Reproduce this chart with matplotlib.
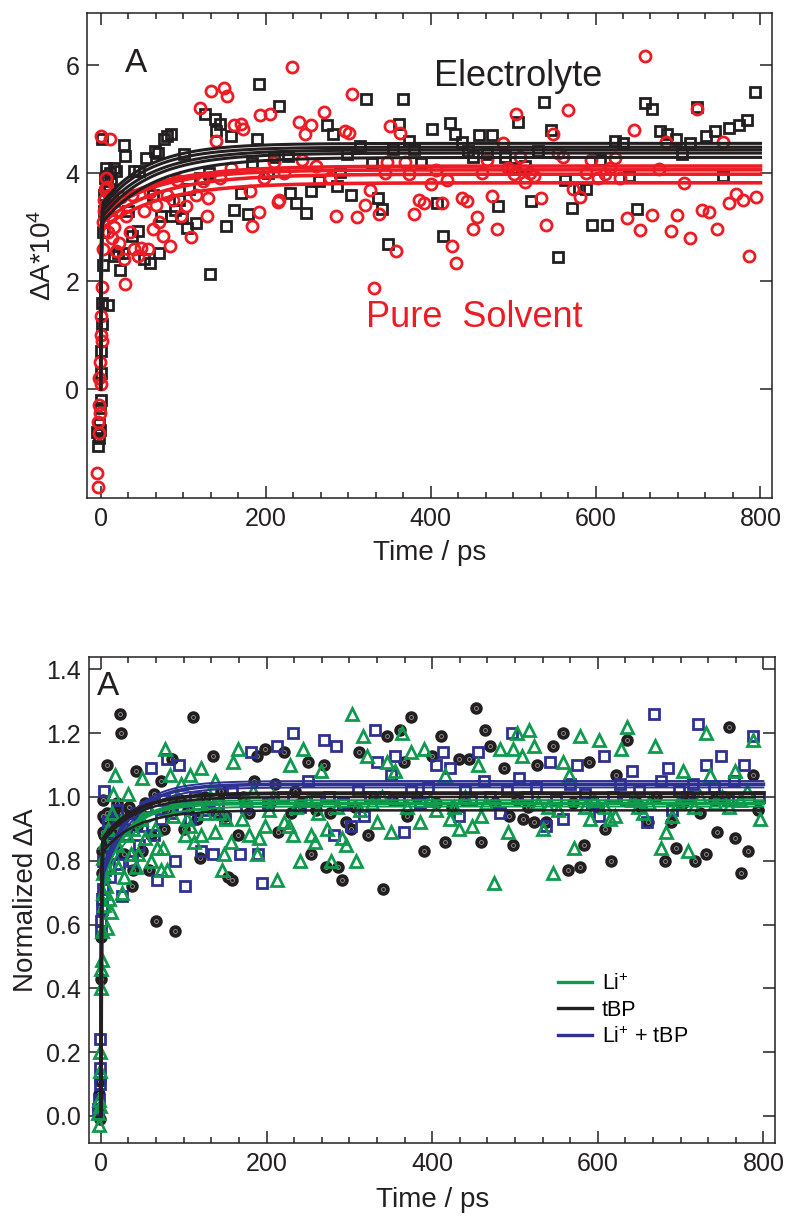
import numpy as np
import matplotlib
matplotlib.use("Agg")
import matplotlib.pyplot as plt
from matplotlib.ticker import MultipleLocator, AutoMinorLocator, FormatStrFormatter, FixedLocator

plt.rcParams['font.family'] = ['Liberation Sans', 'DejaVu Sans']
plt.rcParams['mathtext.fontset'] = 'custom'
plt.rcParams['mathtext.rm'] = 'Liberation Sans'
plt.rcParams['mathtext.it'] = 'Liberation Sans'

# ---------------- Panel 1 data: Delta A * 1e4 vs time (ps) ----------------
electrolyte_t = [-4, -3, -2, -1.5, -1, -0.5, 0, 0.5, 1, 1.5, 2, 2, 2.5, 3, 3.5, 4, 5, 6, 7, 8, 9, 10, 11, 12, 14,
                 16, 16, 19, 21, 24, 27, 28, 30, 33, 38, 41, 45, 47, 52, 55, 60, 63, 66, 70, 71, 73, 77, 81, 85, 85,
                 90, 95, 99, 101, 105, 107, 115, 120, 126, 131, 133, 139, 140, 145, 152, 158, 162, 170, 179, 184,
                 189, 192, 203, 210, 216, 227, 230, 237, 249, 255, 265, 274, 282, 286, 290, 299, 304, 315, 322, 329,
                 336, 341, 348, 355, 362, 367, 374, 380, 389, 402, 408, 415, 424, 430, 438, 445, 452, 459, 468, 475,
                 482, 490, 499, 506, 514, 522, 530, 538, 546, 555, 563, 571, 580, 589, 596, 605, 614, 624, 633, 641,
                 650, 660, 668, 678, 687, 697, 705, 715, 723, 734, 745, 755, 762, 774, 784, 793]
electrolyte_v = [-0.8, -1.05, -0.65, -0.9, -0.35, -0.75, -0.2, 0.3, 0.7, 1.2, 4.63, 1.6, 2.3, 2.9, 3.3, 3.6, 3.9, 3.75, 4.1, 3.95, 1.55, 3.7, 4.0, 3.85, 3.5,
                 2.46, 4.1, 4.04, 2.52, 2.21, 2.52, 4.52, 4.32, 3.3, 2.83, 4.04, 2.93, 4.04, 2.4, 4.27, 2.33, 3.6, 4.41, 4.37, 2.52, 3.2, 4.63, 4.69, 4.73, 3.2,
                 3.31, 3.5, 3.17, 4.36, 2.99, 3.71, 3.08, 3.9, 5.09, 4.01, 2.13, 5.01, 4.77, 4.9, 3.02, 4.69, 3.31, 3.64, 3.25, 4.19,
                 4.64, 5.65, 4.01, 4.3, 5.24, 4.32, 3.64, 3.44, 3.27, 3.67, 3.85, 4.89, 4.72, 3.76, 4.02, 4.35, 3.6, 4.5, 5.38, 4.18,
                 3.53, 3.34, 2.68, 4.45, 4.9, 5.37, 4.59, 4.45, 4.19, 4.81, 3.44, 2.83, 4.93, 4.72, 4.58, 4.4, 4.3, 4.7, 4.35, 4.7,
                 3.39, 4.3, 4.1, 4.94, 4.13, 3.48, 4.4, 5.31, 4.79, 2.44, 3.88, 3.36, 3.73, 3.7, 3.03, 4.24, 3.03, 4.59, 4.55, 3.95,
                 3.34, 5.29, 5.19, 4.78, 4.72, 4.63, 4.35, 4.55, 5.23, 4.69, 4.78, 3.95, 4.84, 4.89, 4.98, 5.5]

solvent_t = [-4, -3.5, -3, -2.5, -2, -1.5, -1, -0.5, 0, 0.5, 1, 1, 1.5, 2, 2.5, 3, 3.5, 4, 5, 6, 7, 8, 9, 10, 11, 12,
             14, 16, 18, 20, 22, 25, 28, 29, 31, 35, 38, 41, 45, 49, 53, 58, 60, 63, 67, 71, 76, 80, 84, 88, 93, 97,
             104, 110, 115, 121, 124, 129, 130, 134, 140, 145, 150, 153, 158, 162, 170, 173, 181, 184, 192, 193, 198,
             205, 210, 215, 216, 222, 232, 240, 244, 248, 255, 261, 271, 278, 285, 296, 301, 305, 311, 320, 326, 332,
             337, 345, 347, 351, 358, 363, 369, 374, 380, 386, 392, 400, 407, 414, 420, 426, 431, 438, 444, 451, 456,
             462, 468, 475, 480, 488, 494, 501, 504, 508, 515, 520, 526, 534, 540, 548, 555, 561, 567, 573, 581, 588,
             595, 603, 611, 618, 624, 630, 638, 647, 654, 660, 668, 677, 685, 691, 699, 707, 715, 723, 729, 738, 747,
             755, 762, 770, 779, 786, 795]
solvent_v = [-1.56, -1.81, -0.6, -0.3, 0.2, -0.82, 0.5, -0.45, 1.0, 0.1, 1.35, 4.69, 0.9, 1.9, 2.6, 3.1, 3.5, 3.3, 3.7, 3.9, 3.4, 3.75, 2.9, 3.6, 4.63, 3.2,
             2.8, 3.0, 2.55, 3.3, 2.7, 3.55, 2.4, 1.94, 3.2, 2.9, 3.6, 2.59, 2.47, 2.62, 3.3, 2.6, 3.65, 2.96, 3.4, 3.1, 2.83, 3.6, 2.65, 3.51, 3.88, 3.2,
             3.39, 2.82, 3.6, 5.21, 3.85, 3.2, 3.54, 5.52, 4.59, 3.9, 5.57, 5.42, 4.1, 4.89, 4.9, 4.82, 3.67, 3.02, 3.28, 5.07, 3.9,
             5.09, 4.2, 3.47, 3.51, 4.0, 5.96, 4.94, 4.25, 4.72, 4.89, 4.13, 5.13, 3.9, 3.2, 4.78, 4.75, 5.46, 3.19, 3.4, 3.69, 1.87,
             3.24, 4.0, 4.2, 4.87, 2.55, 4.75, 4.2, 3.98, 3.25, 3.51, 3.44, 3.79, 4.05, 3.44, 3.88, 2.65, 2.33, 3.53, 3.48, 2.96, 3.19,
             4.0, 4.24, 3.57, 2.97, 4.55, 4.1, 3.98, 5.09, 4.3, 3.83, 4.0, 3.95, 3.53, 3.03, 4.72, 4.37, 4.29, 5.17, 3.7, 3.56, 4.0,
             4.24, 3.9, 3.98, 4.1, 4.27, 3.9, 3.17, 4.8, 2.94, 6.17, 3.23, 4.08, 4.58, 2.93, 3.22, 3.81, 2.8, 5.18, 3.31, 3.28, 2.97,
             4.58, 3.44, 3.62, 3.51, 2.47, 3.56]

# fit curves (plateau, level after fast step, slow time constant in ps)
electrolyte_fit_plateau = [4.55, 4.48, 4.43, 4.37, 4.29]
electrolyte_fit_start = [3.40, 3.32, 3.25, 3.15, 3.05]
electrolyte_fit_tau = [55, 55, 60, 60, 65]
solvent_fit_plateau = [4.13, 4.06, 3.98, 3.82]
solvent_fit_start = [3.30, 3.20, 3.05, 2.95]
solvent_fit_tau = [70, 65, 70, 70]
panel1_yticks = [0, 2, 4, 6]

# ---------------- Panel 2 data: normalized Delta A ----------------
tbp_t = [-3, -2, -1.5, -1, 0, 0.5, 1, 1.5, 2, 2.5, 3, 4, 5, 6, 7, 8, 10, 12, 14, 16, 18, 20, 23, 24, 26, 28, 31, 34,
         37, 39, 42, 44, 47, 50, 53, 58, 61, 64, 67, 72, 76, 80, 86, 89, 95, 100, 105, 111, 116, 120, 126, 130, 135,
         140, 145, 150, 154, 158, 165, 172, 179, 185, 189, 198, 204, 210, 214, 221, 229, 235, 242, 250, 254, 260, 269,
         272, 277, 286, 291, 296, 302, 307, 312, 322, 330, 341, 345, 352, 361, 366, 370, 375, 382, 390, 400, 405, 411,
         416, 424, 432, 438, 444, 453, 459, 464, 470, 476, 487, 493, 498, 503, 510, 516, 523, 527, 537, 546, 558, 564,
         570, 578, 583, 590, 600, 609, 616, 622, 635, 645, 652, 661, 670, 681, 688, 695, 703, 711, 717, 723, 731, 740,
         744, 752, 759, 766, 773, 781, 788, 793]
tbp_v = [0.02, 0.07, -0.01, 0.11, 0.43, 0.56, 0.76, 0.83, 0.89, 0.94, 0.99, 0.88, 0.93, 0.8, 1.1, 0.95, 0.86, 0.9, 0.95, 0.85, 0.92, 0.98, 1.26, 1.2, 0.95, 0.82, 0.9, 0.97,
         0.72, 0.77, 1.08, 0.91, 0.95, 0.83, 0.98, 0.77, 0.88, 1.01, 0.61, 1.05, 0.9, 0.96, 1.12, 0.58, 0.99, 0.9, 0.96, 1.25, 0.93, 0.81, 1.0, 0.97, 1.13,
         0.95, 1.02, 0.94, 0.75, 0.74, 0.88, 1.0, 0.95, 1.05, 1.13, 1.15, 0.98, 1.04, 0.89, 1.14, 0.95, 1.02, 0.98, 1.11, 0.82, 0.96, 1.1,
         0.78, 0.95, 0.78, 0.74, 0.92, 0.9, 0.97, 1.14, 0.88, 1.0, 0.71, 1.19, 0.99, 1.21, 1.11, 0.94, 1.25, 1.0, 0.83, 1.13, 0.98, 1.19,
         0.86, 0.97, 1.12, 0.99, 1.12, 1.28, 0.86, 1.21, 1.16, 0.98, 1.09, 0.94, 0.85, 0.99, 0.93, 0.97, 0.92, 1.1, 0.92, 1.16, 1.2, 0.77,
         0.98, 0.78, 0.85, 1.11, 0.97, 0.9, 0.8, 1.07, 1.18, 0.99, 0.97, 0.92, 1.0, 0.8, 0.92, 0.84, 0.98, 1.0, 0.8, 0.95, 0.82, 0.99,
         0.89, 1.0, 1.22, 0.87, 0.76, 0.83, 1.07, 0.96]

li_t = [-3, -2.5, -2, -1.5, -1, -0.5, 0, 0.5, 1, 1.5, 2, 2.5, 3, 4, 5, 6, 7, 8, 9, 10, 12, 13, 15, 17, 19, 21, 24, 26,
        28, 31, 33, 36, 39, 42, 45, 48, 50, 53, 57, 61, 65, 68, 72, 75, 77, 80, 83, 87, 92, 97, 101, 104, 108, 108, 113,
        117, 121, 121, 126, 132, 138, 138, 143, 146, 149, 151, 157, 160, 166, 171, 175, 179, 184, 188, 191, 198, 203, 208,
        213, 221, 227, 228, 232, 236, 240, 244, 250, 254, 258, 262, 266, 273, 278, 285, 291, 296, 303, 308, 313, 317, 321,
        327, 334, 340, 345, 350, 355, 364, 370, 375, 385, 390, 398, 405, 415, 421, 427, 432, 440, 448, 455, 459, 465, 475,
        482, 492, 498, 502, 509, 517, 523, 528, 534, 540, 546, 552, 558, 565, 571, 578, 585, 591, 596, 602, 609, 615, 621,
        628, 635, 641, 648, 655, 662, 669, 676, 682, 690, 697, 703, 709, 716, 723, 731, 736, 742, 750, 758, 766, 772, 780,
        788, 796]
li_v = [0.01, -0.03, 0.05, 0.14, 0.03, 0.2, 0.4, 0.46, 0.49, 0.58, 0.7, 0.76, 0.81, 0.66, 0.86, 0.72, 0.59, 0.78, 0.9, 0.68, 0.64, 0.95, 1.01, 1.07, 0.85, 0.78, 0.92, 0.7,
        0.75, 0.88, 1.01, 0.82, 0.9, 0.78, 0.82, 0.93, 1.06, 0.87, 0.97, 0.8, 0.9, 0.84, 0.77, 0.84, 1.15, 0.77, 1.07, 0.94, 1.0, 1.04, 0.88, 0.93, 1.07, 0.91, 0.86,
        0.98, 1.09, 0.88, 0.95, 1.0, 1.05, 0.89, 0.95, 0.77, 0.82, 0.93, 0.86, 1.11, 1.15, 0.93, 0.99, 0.88, 1.02, 0.82, 0.87, 0.91, 0.96, 1.0,
        0.74, 0.92, 0.91, 1.1, 0.88, 0.97, 0.8, 1.15, 0.99, 0.88, 0.86, 0.95, 1.08, 0.9, 0.8, 0.97, 0.87, 0.85, 1.26, 0.8, 0.96, 1.19, 1.13,
        0.98, 0.92, 1.0, 1.11, 0.89, 1.08, 1.2, 0.97, 1.14, 0.92, 1.15, 0.99, 0.96, 1.07, 0.93, 0.97, 0.9, 1.0, 0.91, 1.1, 0.94, 0.98, 0.73,
        1.15, 0.89, 1.15, 1.2, 1.13, 1.21, 1.16, 0.98, 0.9, 0.97, 0.76, 0.96, 1.11, 1.07, 0.84, 1.19, 0.97, 0.93, 0.99, 1.18, 0.97, 0.93, 0.94,
        1.15, 1.22, 0.99, 0.97, 0.95, 0.98, 1.16, 0.84, 0.89, 0.94, 0.98, 1.08, 0.83, 0.97, 1.0, 1.2, 1.07, 0.98, 1.0, 0.97, 1.08, 0.99, 1.02,
        1.18, 0.93]

litbp_t = [-3, -2, -1.5, -1, -0.5, 0, 0.5, 1, 1.5, 2, 3, 4, 5, 7, 9, 11, 13, 16, 19, 22, 26, 30, 34, 38, 42, 46, 50,
           55, 60, 64, 68, 72, 76, 80, 85, 90, 94, 98, 102, 108, 114, 121, 128, 135, 142, 150, 158, 168, 175, 181, 190,
           195, 202, 213, 220, 232, 240, 250, 260, 269, 276, 281, 284, 292, 302, 310, 318, 325, 331, 334, 342, 350, 355,
           360, 366, 375, 385, 395, 405, 413, 422, 433, 440, 447, 455, 463, 470, 482, 490, 497, 505, 515, 525, 537, 542,
           550, 558, 566, 575, 585, 593, 602, 608, 618, 627, 634, 641, 650, 660, 668, 676, 685, 690, 698, 708, 715, 721,
           731, 740, 749, 757, 765, 777, 787, 795]
litbp_v = [0.02, 0.05, 0.1, 0.15, 0.24, 0.58, 0.61, 0.65, 0.68, 0.71, 0.8, 1.02, 0.77, 0.86, 0.92, 0.75, 0.82, 0.9, 0.96, 0.79, 0.69, 0.88, 0.92, 0.8, 0.95, 0.85, 0.91,
           0.97, 1.09, 0.88, 0.74, 0.93, 0.99, 1.12, 0.95, 0.8, 1.1, 0.97, 0.72, 0.93, 1.0, 0.83, 0.96, 0.82, 0.98, 0.93, 1.02, 0.82, 0.97, 1.14, 0.82,
           0.73, 0.98, 1.16, 1.0, 1.2, 0.97, 1.05, 0.99, 1.18, 1.0, 0.88, 1.16, 0.98, 0.91, 1.02, 0.94, 1.0, 1.21, 1.11, 1.0, 1.07, 1.13,
           0.99, 0.89, 1.02, 0.98, 1.03, 1.1, 1.14, 1.09, 0.94, 1.02, 0.99, 1.14, 1.05, 1.0, 0.95, 1.02, 1.2, 1.06, 1.0, 1.03, 0.91, 1.11,
           0.99, 0.93, 1.04, 1.1, 1.01, 0.98, 0.94, 1.13, 1.0, 1.04, 0.99, 1.08, 1.02, 0.92, 1.26, 1.05, 1.09, 0.96, 1.02, 1.0, 1.04, 1.23,
           1.1, 1.03, 1.13, 0.99, 1.05, 1.1, 1.19, 1.0]

li_fit_plateau = [0.99, 0.98, 0.97]
li_fit_start = [0.74, 0.72, 0.70]
li_fit_tau = [32, 30, 34]
tbp_fit_plateau = [1.012, 1.0, 0.958]
tbp_fit_start = [0.86, 0.85, 0.82]
tbp_fit_tau = [40, 40, 40]
litbp_fit_plateau = [1.05, 1.04, 1.03]
litbp_fit_start = [0.76, 0.75, 0.73]
litbp_fit_tau = [35, 35, 36]

legend_labels = [r'Li$^{+}$', 'tBP', r'Li$^{+}$ + tBP']

# ---------------- styling ----------------
BLACK = '#231f20'
RED = '#ed1c24'
GREEN = '#0f9a4e'
BLUE = '#2e3192'
FS_TICK = 18
FS_LABEL = 20

fig = plt.figure(figsize=(7.88, 12.17), dpi=100)
ax1 = fig.add_axes([0.111, 0.5906, 0.8687, 0.3990])
ax2 = fig.add_axes([0.1133, 0.0606, 0.8702, 0.3993])

t_fit = np.concatenate([[0.0], np.linspace(0.02, 10, 200), np.linspace(10.5, 800, 600)])


def fit_curve(plateau, start, tau):
    return (plateau - (plateau - start) * np.exp(-t_fit / tau)) * (1 - np.exp(-t_fit / 0.6))


# panel 1
ax1.plot(electrolyte_t, electrolyte_v, ls='none', marker='s', ms=7.5, mfc='none', mec=BLACK, mew=2.0, zorder=2)
ax1.plot(solvent_t, solvent_v, ls='none', marker='o', ms=8, mfc='none', mec=RED, mew=2.0, zorder=2.1)
for p, s, tau in zip(solvent_fit_plateau, solvent_fit_start, solvent_fit_tau):
    ax1.plot(t_fit, fit_curve(p, s, tau), color=RED, lw=2.6, zorder=3)
for p, s, tau in zip(electrolyte_fit_plateau, electrolyte_fit_start, electrolyte_fit_tau):
    ax1.plot(t_fit, fit_curve(p, s, tau), color=BLACK, lw=2.2, zorder=3.1)

ax1.set_xlim(-16, 814)
ax1.set_ylim(-2.02, 6.97)
ax1.xaxis.set_major_locator(MultipleLocator(200))
ax1.xaxis.set_minor_locator(AutoMinorLocator(6))
ax1.yaxis.set_major_locator(FixedLocator(panel1_yticks))
ax1.set_xlabel('Time / ps', fontsize=FS_LABEL, color=BLACK, labelpad=7)
ax1.set_ylabel(r'ΔA*10$^{4}$', fontsize=FS_LABEL, color=BLACK, labelpad=6)
ax1.text(29, 5.88, 'A', fontsize=24, color=BLACK)
ax1.text(404, 5.62, 'Electrolyte', fontsize=26, color=BLACK)
ax1.text(322, 1.15, 'Pure  Solvent', fontsize=26, color=RED)

# panel 2
ax2.plot(tbp_t, tbp_v, ls='none', marker='o', ms=8, mfc=BLACK, mec=BLACK, mew=1.0, zorder=2)
ax2.plot(tbp_t, tbp_v, ls='none', marker='o', ms=2.8, mfc='none', mec='#9a9a9a', mew=0.6, zorder=2.05)
ax2.plot(litbp_t, litbp_v, ls='none', marker='s', ms=7.5, mfc='none', mec=BLUE, mew=2.0, zorder=2.1)
ax2.plot(li_t, li_v, ls='none', marker='^', ms=8.5, mfc='none', mec=GREEN, mew=2.0, zorder=2.2)

for i, (p, s, tau) in enumerate(zip(li_fit_plateau, li_fit_start, li_fit_tau)):
    ax2.plot(t_fit, fit_curve(p, s, tau), color=GREEN, lw=2.6 if i == 1 else 1.4, zorder=3)
for i, (p, s, tau) in enumerate(zip(litbp_fit_plateau, litbp_fit_start, litbp_fit_tau)):
    ax2.plot(t_fit, fit_curve(p, s, tau), color=BLUE, lw=2.6 if i == 1 else 1.4, zorder=3.1)
for i, (p, s, tau) in enumerate(zip(tbp_fit_plateau, tbp_fit_start, tbp_fit_tau)):
    ax2.plot(t_fit, fit_curve(p, s, tau), color=BLACK, lw=2.8 if i == 0 else 1.8, zorder=3.2)

ax2.set_xlim(-14, 814)
ax2.set_ylim(-0.086, 1.438)
ax2.xaxis.set_major_locator(MultipleLocator(200))
ax2.xaxis.set_minor_locator(AutoMinorLocator(6))
ax2.yaxis.set_major_locator(MultipleLocator(0.2))
ax2.yaxis.set_major_formatter(FormatStrFormatter('%.1f'))
ax2.set_xlabel('Time / ps', fontsize=FS_LABEL, color=BLACK, labelpad=8)
ax2.set_ylabel('Normalized ΔA', fontsize=FS_LABEL, color=BLACK, labelpad=5)
ax2.text(-4.7, 1.32, 'A', fontsize=24, color=BLACK)

handles = [plt.Line2D([], [], color=c, lw=2.4) for c in (GREEN, BLACK, BLUE)]
ax2.legend(handles, legend_labels, loc='upper left', bbox_to_anchor=(0.655, 0.39), frameon=False,
           fontsize=15.5, handlelength=1.6, handletextpad=0.45, labelspacing=0.25)

for ax in (ax1, ax2):
    ax.tick_params(which='both', direction='in', top=True, right=True, colors=BLACK, width=1.1,
                   labelsize=FS_TICK, pad=6)
    ax.tick_params(which='major', length=8.4)
    ax.tick_params(which='minor', length=4.3)
    for sp in ax.spines.values():
        sp.set_linewidth(1.1)
        sp.set_color(BLACK)

fig.savefig('out.png', dpi=100)
